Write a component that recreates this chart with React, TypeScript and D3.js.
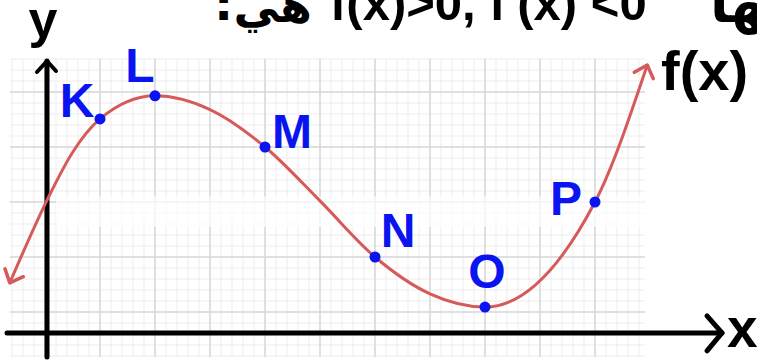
import React from "react";
import * as d3 from "d3";

// Labelled points on f(x)
const pointNames = ["K", "L", "M", "N", "O", "P"];
const pointX = [1, 2, 4, 6, 8, 10];
const pointY = [3.51, 3.93, 3.0, 1.0, 0.09, 2.0];

// Extra samples of the curve between the labelled points (both arrow ends included)
const sampleX = [-0.64, 0.04, 0.5, 3, 5, 7, 10.95];
const sampleY = [0.53, 2.04, 2.9, 3.68, 2.02, 0.33, 4.49];

// Question text above the graph
const questionTail = ":";
const questionWord = "هي";
const questionMath = "f(x)>0, f'(x) <0";
const questionHead = "فيها";

const W = 757;
const H = 363;

const x = d3.scaleLinear().domain([0, 10]).range([45, 595]);
const y = d3.scaleLinear().domain([0, 4]).range([312, 92]);

// label placement relative to each dot (center x, baseline y)
const labelOffset: Record<string, [number, number]> = {
  K: [-23, -2],
  L: [-15, -14],
  M: [27, 1],
  N: [23, -10],
  O: [2, -19],
  P: [-29, 13],
};

const RED = "#d65a5a";
const BLUE = "#0a14f0";

export default function App() {
  const curvePts = pointX
    .map((v, i) => [v, pointY[i]] as [number, number])
    .concat(sampleX.map((v, i) => [v, sampleY[i]] as [number, number]))
    .sort((a, b) => a[0] - b[0]);

  const line = d3
    .line<[number, number]>()
    .x((d) => x(d[0]))
    .y((d) => y(d[1]))
    .curve(d3.curveMonotoneX);

  const gx0 = -0.64, gx1 = 10.91, gy0 = -0.82, gy1 = 4.6;
  const minorX = d3.range(-3, 55).map((i) => i / 5);
  const minorY = d3.range(-4, 24).map((i) => i / 5);
  const majorX = minorX.filter((v) => Math.abs(v - Math.round(v)) < 1e-9);
  const majorY = minorY.filter((v) => Math.abs(v - Math.round(v)) < 1e-9);

  const axisX = x(0) + 2;
  const axisY = y(-0.38);

  return (
    <svg
      width={W}
      height={H}
      style={{ position: "absolute", left: 0, top: 0, background: "#fff" }}
    >
      <defs>
        <marker
          id="redArrow"
          markerUnits="userSpaceOnUse"
          markerWidth="30"
          markerHeight="30"
          viewBox="-15 -15 30 30"
          refX="0"
          refY="0"
          orient="auto-start-reverse"
        >
          <path d="M-11,-10 L0,0 L-11,10" fill="none" stroke={RED} strokeWidth={3.5} strokeLinecap="round" strokeLinejoin="round" />
        </marker>
      </defs>

      {/* grid */}
      <g>
        {minorX.map((v, i) => (
          <line key={"mx" + i} x1={x(v)} x2={x(v)} y1={y(gy0)} y2={y(gy1)} stroke="#ededed" strokeWidth={1} />
        ))}
        {minorY.map((v, i) => (
          <line key={"my" + i} x1={x(gx0)} x2={x(gx1)} y1={y(v)} y2={y(v)} stroke="#ededed" strokeWidth={1} />
        ))}
        {majorX.map((v, i) => (
          <line key={"Mx" + i} x1={x(v)} x2={x(v)} y1={y(gy0)} y2={y(gy1)} stroke="#d8d8d8" strokeWidth={1.5} />
        ))}
        {majorY.map((v, i) => (
          <line key={"My" + i} x1={x(gx0)} x2={x(gx1)} y1={y(v)} y2={y(v)} stroke="#d8d8d8" strokeWidth={1.5} />
        ))}
        {/* washed-out band across the middle of the grid */}
        <rect x={x(0.2)} y={y(2.1)} width={x(10.9) - x(0.2)} height={y(1.55) - y(2.1)} fill="#fff" opacity={0.7} />
      </g>

      {/* axes */}
      <g stroke="#000" fill="none" strokeLinecap="round" strokeLinejoin="round">
        <line x1={7} x2={722} y1={axisY} y2={axisY} strokeWidth={5} />
        <path d={`M707,${axisY - 17} L722,${axisY} L707,${axisY + 18}`} strokeWidth={5} />
        <line x1={axisX} x2={axisX} y1={357} y2={61} strokeWidth={5} />
        <path d={`M${axisX - 10},72 L${axisX},61 L${axisX + 9},71`} strokeWidth={4} />
      </g>

      {/* f(x) */}
      <path
        d={line(curvePts) || ""}
        fill="none"
        stroke={RED}
        strokeWidth={3}
        markerStart="url(#redArrow)"
        markerEnd="url(#redArrow)"
      />

      {/* labelled points */}
      {pointNames.map((name, i) => (
        <g key={name}>
          <circle cx={x(pointX[i])} cy={y(pointY[i])} r={5.5} fill={BLUE} />
          <text
            x={x(pointX[i]) + labelOffset[name][0]}
            y={y(pointY[i]) + labelOffset[name][1]}
            textAnchor="middle"
            fill={BLUE}
            fontFamily="'Liberation Sans', Arial, sans-serif"
            fontWeight="bold"
            fontSize={48}
          >
            {name}
          </text>
        </g>
      ))}

      {/* axis names */}
      <g fill="#000" fontFamily="'Liberation Sans', Arial, sans-serif" fontWeight="bold">
        <text x={43} y={37} textAnchor="middle" fontSize={52}>y</text>
        <text x={727} y={347} fontSize={55}>x</text>
        <text x={661} y={90} fontSize={56}>f(x)</text>
      </g>

      {/* question line, clipped by the top edge */}
      <g fill="#000" fontWeight="bold">
        <text x={214} y={20} fontSize={48} fontFamily="'DejaVu Sans', sans-serif">{questionTail}</text>
        <text x={312} y={22} fontSize={46} textAnchor="end" fontFamily="'DejaVu Sans', sans-serif">{questionWord}</text>
        <text x={330} y={20} fontSize={49} fontFamily="'Liberation Sans', Arial, sans-serif">{questionMath}</text>
        <text x={710} y={22} fontSize={54} fontFamily="'DejaVu Sans', sans-serif">{questionHead}</text>
      </g>
    </svg>
  );
}
